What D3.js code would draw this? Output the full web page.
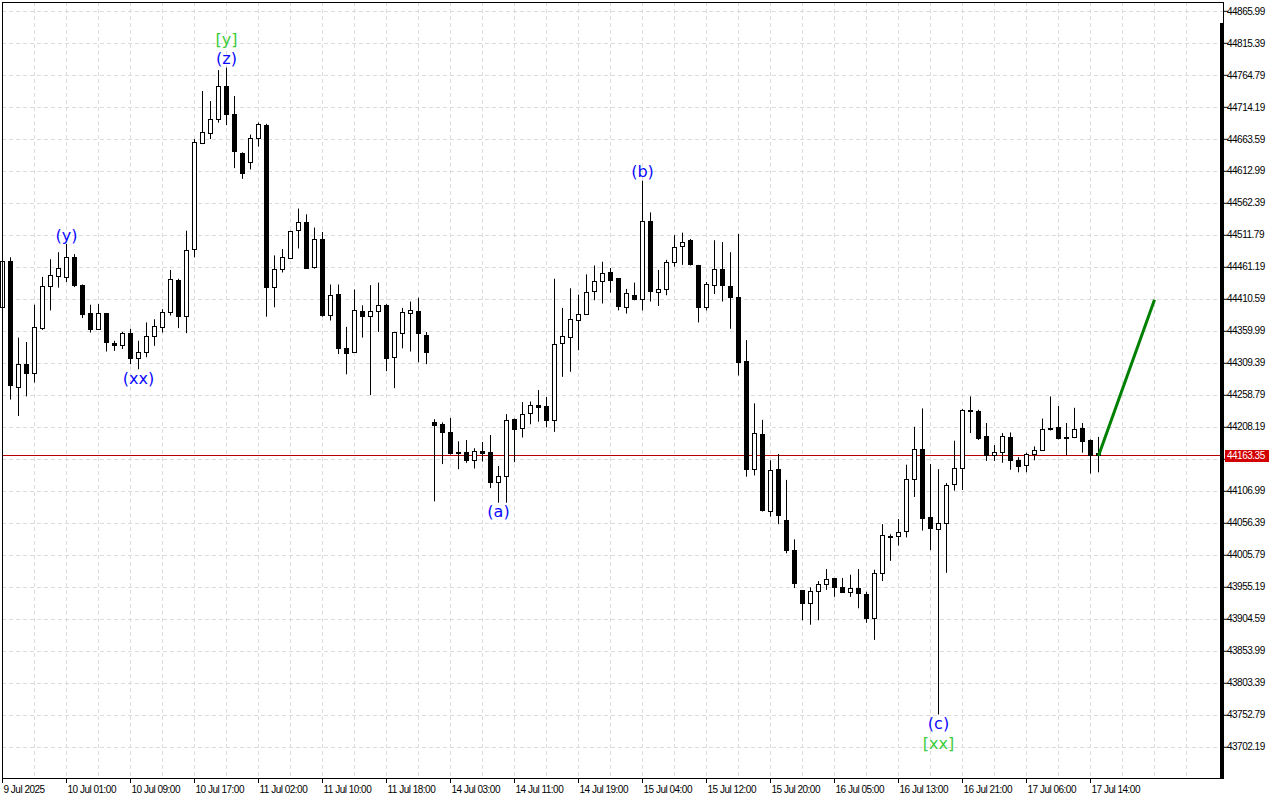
<!DOCTYPE html>
<html><head><meta charset="utf-8">
<script src="https://cdn.jsdelivr.net/npm/d3@7"></script>
<style>html,body{margin:0;padding:0;background:#fff;} svg{display:block;}</style>
</head><body><svg id="c" width="1280" height="800"></svg>
<script>
const opens=[44397,44471,44271,44307,44293,44364,44431,44446,44445,44477,44433,44388,44363,44388,44341,44338,44357,44317,44327,44352,44366,44390,44441,44383,44490,44657,44673,44695,44747,44703,44641,44627,44665,44686,44430,44457,44475,44519,44532,44461,44505,44385,44418,44332,44327,44392,44384,44392,44400,44319,44357,44388,44392,44354,44215,44212,44200,44169,44169,44156,44170,44169,44121,44130,44221,44206,44230,44242,44241,44219,44340,44350,44377,44387,44423,44438,44453,44443,44398,44417,44410,44533,44422,44426,44468,44494,44503,44464,44397,44433,44457,44431,44414,44313,44141,44197,44075,44142,44061,44014,43950,43929,43949,43959,43969,43955,43947,43953,43944,43906,43977,44036,44035,44043,44126,44173,44066,44047,44056,44118,44143,44234,44233,44194,44164,44169,44192,44156,44148,44165,44172,44206,44208,44192,44192,44207,44188,44166];
const highs=[44476,44477,44350,44343,44402,44446,44474,44485,44498,44482,44434,44402,44403,44389,44345,44359,44364,44345,44374,44379,44395,44457,44443,44519,44664,44740,44724,44773,44777,44732,44643,44671,44690,44688,44480,44490,44519,44554,44545,44524,44517,44434,44434,44367,44426,44401,44433,44437,44403,44359,44397,44407,44413,44359,44221,44216,44223,44186,44188,44175,44185,44196,44147,44229,44222,44248,44249,44267,44256,44443,44397,44428,44418,44450,44464,44470,44460,44444,44427,44437,44598,44548,44457,44473,44512,44516,44506,44465,44438,44504,44501,44485,44514,44346,44246,44220,44156,44166,44125,44031,43951,43955,43965,43984,43970,43970,43975,43984,43948,43983,44055,44039,44063,44149,44209,44238,44150,44142,44120,44187,44237,44257,44236,44215,44180,44199,44200,44161,44168,44178,44222,44257,44242,44215,44239,44215,44189,44193];
const lows=[44391,44252,44226,44257,44279,44362,44393,44429,44438,44430,44381,44358,44362,44328,44329,44332,44308,44300,44319,44337,44358,44385,44365,44357,44477,44656,44664,44690,44686,44618,44601,44616,44652,44383,44398,44453,44474,44491,44459,44459,44383,44377,44324,44292,44326,44350,44259,44359,44297,44270,44333,44328,44311,44308,44091,44150,44165,44142,44152,44143,44154,44112,44089,44089,44153,44192,44213,44217,44208,44201,44288,44296,44330,44386,44409,44404,44421,44393,44388,44409,44393,44407,44400,44417,44462,44465,44464,44374,44393,44419,44407,44364,44290,44130,44132,44075,44067,44055,44009,43954,43903,43896,43903,43951,43940,43946,43940,43922,43899,43872,43965,43997,44021,44034,44098,44045,44014,43754,43978,44108,44109,44199,44188,44155,44155,44152,44141,44137,44137,44156,44171,44203,44189,44164,44191,44168,44135,44137];
const closes=[44470,44274,44308,44293,44366,44431,44449,44460,44477,44432,44386,44363,44388,44342,44337,44357,44317,44326,44352,44368,44390,44442,44383,44488,44659,44675,44695,44747,44703,44645,44610,44665,44687,44430,44458,44476,44518,44532,44460,44505,44385,44417,44333,44325,44393,44383,44392,44401,44317,44358,44390,44393,44356,44326,44211,44200,44166,44166,44155,44170,44167,44121,44131,44219,44204,44229,44243,44239,44219,44339,44351,44379,44387,44422,44439,44452,44440,44399,44419,44410,44533,44423,44426,44468,44493,44501,44465,44397,44434,44458,44432,44414,44311,44141,44199,44076,44140,44068,44013,43961,43929,43949,43960,43968,43955,43947,43953,43945,43906,43977,44037,44034,44042,44125,44173,44064,44048,44056,44116,44143,44234,44233,44190,44164,44169,44194,44155,44146,44165,44172,44205,44204,44190,44190,44205,44185,44164,44163.35];

const yTickValues=[44865.99,44815.39,44764.79,44714.19,44663.59,44612.99,44562.39,44511.79,44461.19,44410.59,44359.99,44309.39,44258.79,44208.19,44157.59,44106.99,44056.39,44005.79,43955.19,43904.59,43853.99,43803.39,43752.79,43702.19];
const xTickBars=[0,8,16,24,32,40,48,56,64,72,80,88,96,104,112,120,128,136];
const xTickLabels=["9 Jul 2025","10 Jul 01:00","10 Jul 09:00","10 Jul 17:00","11 Jul 02:00","11 Jul 10:00","11 Jul 18:00","14 Jul 03:00","14 Jul 11:00","14 Jul 19:00","15 Jul 04:00","15 Jul 12:00","15 Jul 20:00","16 Jul 05:00","16 Jul 13:00","16 Jul 21:00","17 Jul 06:00","17 Jul 14:00"];

const waveText=["(y)","(xx)","[y]","(z)","(a)","(b)","(c)","[xx]"];
const waveBar=[8,17,28,28,62,80,117,117];
const waveSide=["above","below","above","above","below","above","below","below"];
const waveDegree=["minor","minor","major","minor","minor","minor","minor","major"];

const currentPrice=44163.35;
const projBars=[137,144];
const projValues=[44163.35,44410];

const svg=d3.select("#c");
const L=2,R=1223,T=2,B=778;
const x=d3.scaleLinear().domain([0,152]).range([2.5,2.5+8*152]);
const y=d3.scaleLinear().domain([43653.6,44880.7]).range([778,2]);
const crisp=v=>Math.round(v-0.5)+0.5;

svg.append("rect").attr("width",1280).attr("height",800).attr("fill","#fff");

const grid=svg.append("g").attr("stroke","#dcdcdc").attr("stroke-dasharray","4,3").attr("stroke-width",1);
grid.selectAll("line.h").data(yTickValues).join("line").attr("class","h")
  .attr("x1",L).attr("x2",R).attr("y1",d=>crisp(y(d))).attr("y2",d=>crisp(y(d)));
grid.selectAll("line.v").data(d3.range(4,152,4).filter(i=>x(i)<R-2)).join("line").attr("class","v")
  .attr("x1",d=>x(d)).attr("x2",d=>x(d)).attr("y1",T).attr("y2",B);

// price line
svg.append("line").attr("x1",L).attr("x2",R).attr("y1",crisp(y(currentPrice))).attr("y2",crisp(y(currentPrice)))
  .attr("stroke","#b40000").attr("stroke-width",1);

// candles
const idx=d3.range(opens.length);
const cg=svg.append("g");
cg.selectAll("line").data(idx).join("line")
  .attr("x1",i=>x(i)).attr("x2",i=>x(i))
  .attr("y1",i=>y(highs[i])).attr("y2",i=>y(lows[i]))
  .attr("stroke","#000").attr("stroke-width",1);
cg.selectAll("rect").data(idx).join("rect")
  .attr("x",i=>x(i)-2).attr("width",4)
  .attr("y",i=>crisp(y(Math.max(opens[i],closes[i]))))
  .attr("height",i=>Math.max(1,crisp(y(Math.min(opens[i],closes[i])))-crisp(y(Math.max(opens[i],closes[i])))))
  .attr("fill",i=>closes[i]>=opens[i]?"#fff":"#000")
  .attr("stroke","#000").attr("stroke-width",1);

// projection
svg.append("path").datum(projBars.map((b,i)=>[b,projValues[i]]))
  .attr("d",d3.line().x(d=>x(d[0])).y(d=>y(d[1])))
  .attr("fill","none").attr("stroke","#008000").attr("stroke-width",3);

// wave labels
svg.append("g").selectAll("text").data(waveText).join("text")
  .attr("x",(d,i)=>x(waveBar[i]))
  .attr("y",(d,i)=>{
    const off=waveDegree[i]==="major"?28.5:9;
    return waveSide[i]==="above"? y(highs[waveBar[i]])-off : y(lows[waveBar[i]])+off;})
  .attr("text-anchor","middle").attr("dominant-baseline","central")
  .attr("font-family","DejaVu Sans").attr("font-size",16)
  .attr("fill",(d,i)=>waveDegree[i]==="major"?"#3ccc3c":"#0a0aff")
  .text(d=>d);

// frame
svg.append("rect").attr("x",L+0.5).attr("y",T+0.5).attr("width",R-L).attr("height",B-T)
  .attr("fill","none").attr("stroke","#000").attr("stroke-width",1);
svg.append("rect").attr("x",1220).attr("y",23).attr("width",4).attr("height",B-23+1).attr("fill","#000");

// y axis
const ya=svg.append("g").attr("transform","translate(1224,0)")
  .call(d3.axisRight(y).tickValues(yTickValues).tickSize(4).tickPadding(-1).tickFormat(d3.format(".2f")).offset(0));
ya.select(".domain").remove();
ya.selectAll("line").attr("stroke","#000");
ya.selectAll("text").attr("font-family","Liberation Sans").attr("font-size",10).attr("letter-spacing","-0.5px").attr("fill","#000");

// x axis
const xa=svg.append("g").attr("transform",`translate(0,${B})`)
  .call(d3.axisBottom(x).tickValues(xTickBars).tickSize(5).tickFormat((d,i)=>xTickLabels[i]).offset(0));
xa.select(".domain").remove();
xa.selectAll("line").attr("stroke","#000");
xa.selectAll("text").attr("text-anchor","start").attr("x",1)
  .attr("font-family","Liberation Sans").attr("font-size",10).attr("letter-spacing","-0.5px").attr("fill","#000");

// current price box
const cy=y(currentPrice);
svg.append("rect").attr("x",1225).attr("y",Math.round(cy)-6).attr("width",44).attr("height",12).attr("fill","#d20000");
svg.append("text").attr("x",1227).attr("y",cy).attr("dominant-baseline","central")
  .attr("font-family","Liberation Sans").attr("font-size",10).attr("letter-spacing","-0.5px").attr("fill","#fff")
  .text(d3.format(".2f")(currentPrice));
</script></body></html>
